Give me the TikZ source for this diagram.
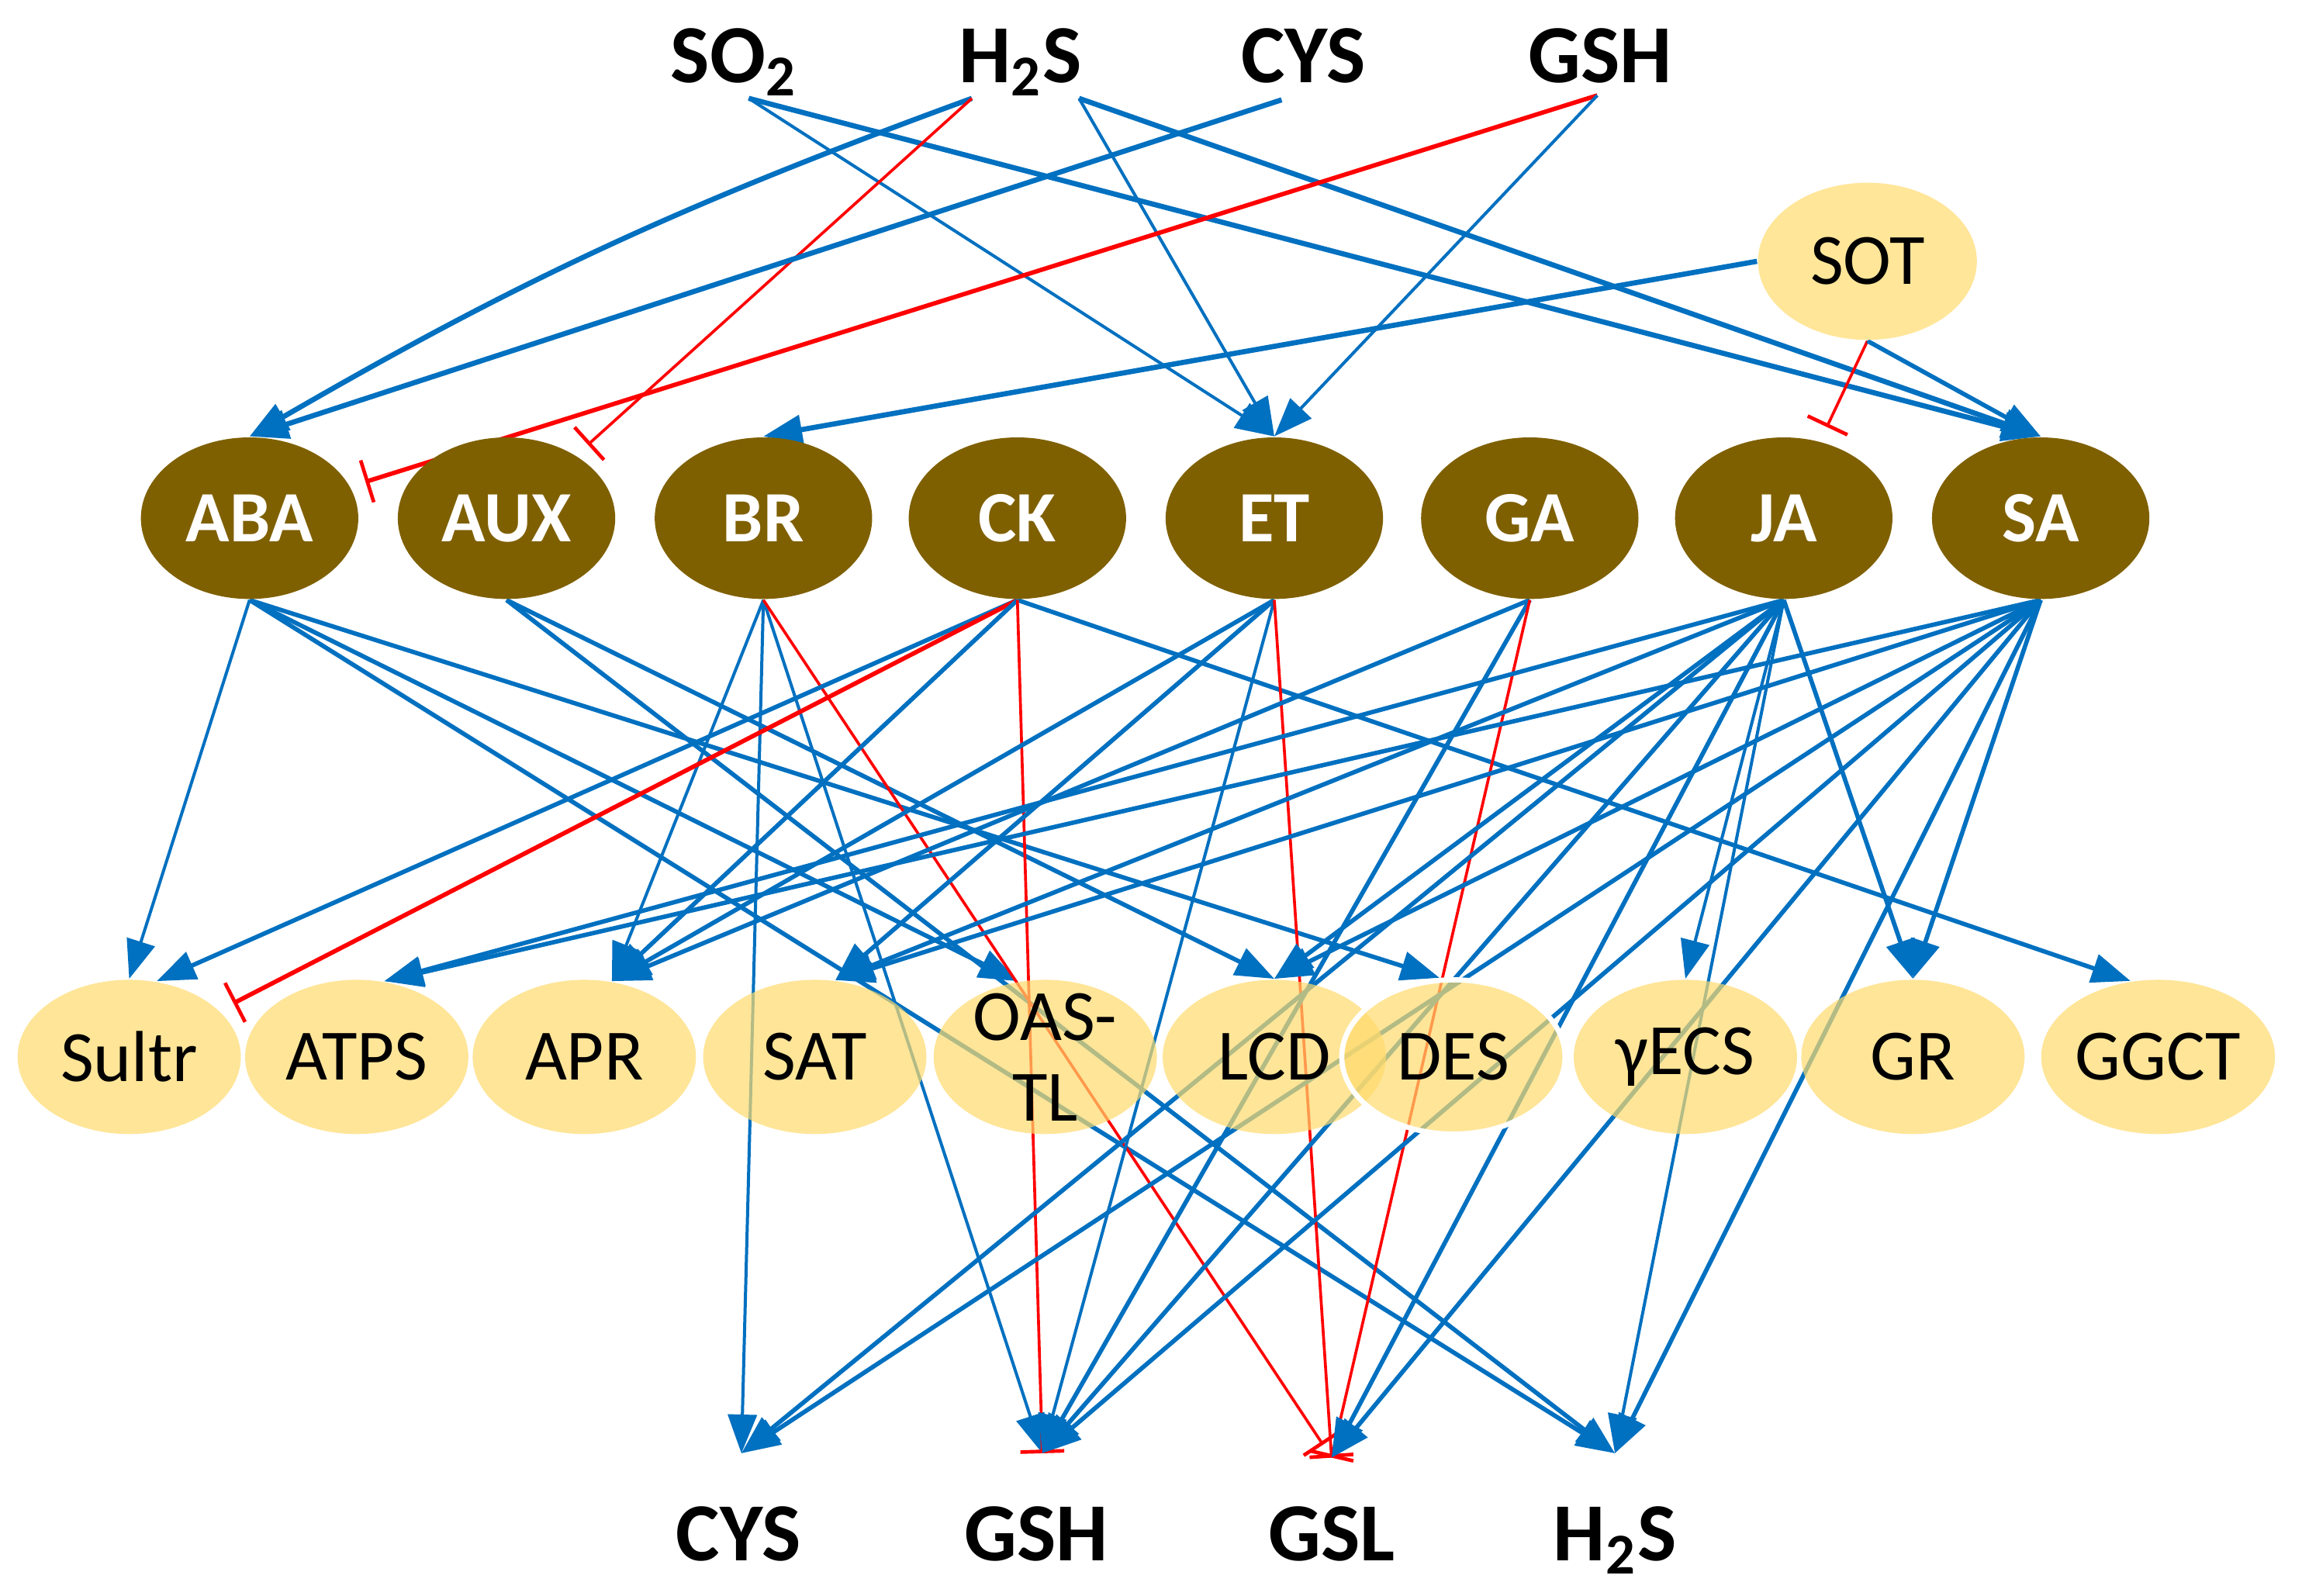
\documentclass[tikz,border=0pt]{standalone}
\usepackage{fontspec}
\setmainfont{Carlito}
\usetikzlibrary{shapes.geometric,arrows.meta,backgrounds}
\definecolor{hormonebrown}{HTML}{7F6000}
\definecolor{enzymegold}{HTML}{FFDB6D}
\definecolor{sotgold}{HTML}{FFE699}
\definecolor{actblue}{HTML}{0070C0}
\definecolor{inhred}{HTML}{FF0000}
\tikzset{
  hormone/.style={ellipse, fill=hormonebrown, text=white, inner sep=0pt,
    minimum width=1.48cm, minimum height=1.1cm, font=\bfseries\fontsize{14}{16}\selectfont},
  enzyme/.style={ellipse, fill=enzymegold, fill opacity=0.7, text opacity=1, inner sep=0pt,
    minimum width=1.52cm, minimum height=1.05cm, font=\fontsize{14}{15.6}\selectfont},
  metab/.style={anchor=base, inner sep=0pt, font=\bfseries\fontsize{16}{18}\selectfont},
  act/.style={draw=actblue, line width=0.85pt, -{Triangle[length=7.5pt,width=5.6pt]}},
  actthick/.style={act, line width=1pt},
  actthin/.style={act, line width=0.6pt},
  inh/.style={draw=inhred, line width=0.55pt, shorten >=3pt, -{Bar[width=8.5pt,line width=0.7pt]}},
  inhthick/.style={inh, line width=0.85pt},
}
\begin{document}
\begin{tikzpicture}[x=0.01cm,y=-0.01cm]
  \useasboundingbox (0,0) rectangle (1568,1087);
  \draw
    (500,56) node[metab] (so2T){SO\textsubscript{2}}
    (695,56) node[metab] (h2sT){H\textsubscript{2}S}
    (888,56) node[metab] (cysT){CYS}
    (1090,56) node[metab] (gshT){GSH}
    (503,1063) node[metab] (cysB){CYS}
    (706,1063) node[metab] (gshB){GSH}
    (907,1063) node[metab] (gslB){GSL}
    (1100,1063) node[metab] (h2sB){H\textsubscript{2}S};
  \coordinate (so2o) at (510,67);
  \coordinate (h2sl) at (662,67);
  \coordinate (h2sr) at (735,67);
  \coordinate (cyso) at (873,68);
  \coordinate (gsho) at (1088,65);
  \coordinate (cysIn) at (505,990);
  \coordinate (gshIn) at (710,990);
  \coordinate (gslIn) at (907,993);
  \coordinate (h2sIn) at (1100,990);
  \node[ellipse, fill=sotgold, minimum width=1.49cm, minimum height=1.07cm,
    font=\fontsize{14}{16}\selectfont] (SOT) at (1272,178) {SOT};
  \draw
    (170,353) node[hormone] (ABA){ABA}
    (345,353) node[hormone] (AUX){AUX}
    (520,353) node[hormone] (BR){BR}
    (693,353) node[hormone] (CK){CK}
    (868,353) node[hormone] (ET){ET}
    (1042,353) node[hormone] (GA){GA}
    (1215,353) node[hormone] (JA){JA}
    (1390,353) node[hormone] (SA){SA};
  \draw
    (88,720) node[enzyme] (Sultr){Sultr}
    (243,720) node[enzyme] (ATPS){ATPS}
    (398,720) node[enzyme] (APR){APR}
    (555,720) node[enzyme] (SAT){SAT}
    (712,720) node[enzyme, align=center, inner ysep=-0.2cm] (OAS){OAS-\\TL}
    (868,720) node[enzyme] (LCD){LCD}
    (990,720) node[enzyme, draw=white, line width=1pt] (DES){DES}
    (1148,720) node[enzyme] (gECS){γECS}
    (1303,720) node[enzyme] (GR){GR}
    (1470,720) node[enzyme] (GGCT){GGCT};
  \begin{scope}[on background layer]
    \fill[white] (0,0) rectangle (1568,1087);
    \draw[actthin] (so2o) to (ET.north);
    \draw[actthick] (so2o) to (SA.north);
    \draw[actthick] (h2sl) to[bend right=5] (ABA.north);
    \draw[inh] (h2sl) to (AUX);
    \draw[actthin] (h2sr) to (ET.north);
    \draw[actthick] (h2sr) to (SA.north);
    \draw[actthick] (cyso) to (ABA.north);
    \draw[inhthick] (gsho) to (ABA);
    \draw[actthin] (gsho) to (ET.north);
    \draw[actthick] (SOT.west) to (BR.north);
    \draw[inh] (SOT.south) to (JA);
    \draw[act] (SOT.south) to (SA.north);
    \draw[actthin] (ABA.south) to (Sultr.north);
    \draw[act] (ABA.south) to (OAS.110);
    \draw[act] (ABA.south) to (DES.100);
    \draw[act] (ABA.south) to (h2sIn);
    \draw[act] (AUX.south) to (LCD.north);
    \draw[act] (AUX.south) to (h2sIn);
    \draw[actthin] (BR.south) to (APR.70);
    \draw[actthin] (BR.south) to (cysIn);
    \draw[actthin] (BR.south) to (gshIn);
    \draw[inh] (BR.south) to (gslIn);
    \draw[act] (CK.south) to (Sultr.70);
    \draw[inhthick] (CK.south) to (Sultr);
    \draw[act] (CK.south) to (APR.70);
    \draw[act] (CK.south) to (GGCT.110);
    \draw[inh, shorten >=0pt] (CK.south) to (gshIn);
    \draw[act] (ET.south) to (APR.70);
    \draw[act] (ET.south) to (SAT.75);
    \draw[actthin] (ET.south) to (gshIn);
    \draw[inh, shorten >=0pt] (ET.south) to (gslIn);
    \draw[act] (GA.south) to (APR.70);
    \draw[act] (GA.south) to (gshIn);
    \draw[inh, shorten >=0pt] (GA.south) to (gslIn);
    \draw[act] (JA.south) to (ATPS.70);
    \draw[act] (JA.south) to (SAT.75);
    \draw[act] (JA.south) to (LCD.north);
    \draw[actthin] (JA.south) to (gECS.north);
    \draw[act] (JA.south) to (GR.north);
    \draw[act] (JA.south) to (cysIn);
    \draw[act] (JA.south) to (gshIn);
    \draw[act] (JA.south) to (gslIn);
    \draw[actthin] (JA.south) to (h2sIn);
    \draw[act] (SA.south) to (ATPS.70);
    \draw[act] (SA.south) to (SAT.75);
    \draw[act] (SA.south) to (LCD.north);
    \draw[act] (SA.south) to (GR.north);
    \draw[act] (SA.south) to (cysIn);
    \draw[act] (SA.south) to (gshIn);
    \draw[act] (SA.south) to (gslIn);
    \draw[act] (SA.south) to (h2sIn);
  \end{scope}
\end{tikzpicture}
\end{document}
